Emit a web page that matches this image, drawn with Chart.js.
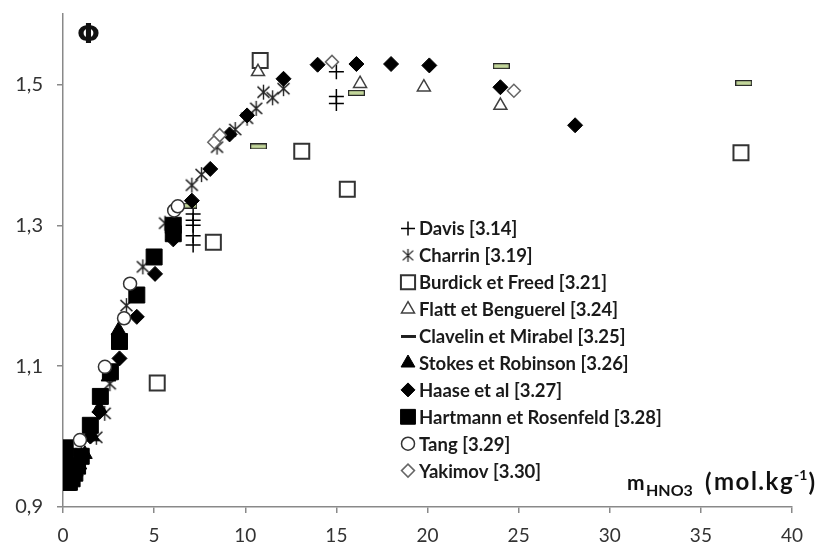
<!DOCTYPE html>
<html>
<head>
<meta charset="utf-8">
<script src="https://cdn.jsdelivr.net/npm/chart.js@4.4.1/dist/chart.umd.min.js"></script>
<style>
  body { margin: 0; background: #fff; }
  canvas { display: block; }
</style>
</head>
<body>
<canvas id="chartContainer" width="822" height="546"></canvas>
<script>
// data, [m HNO3, phi]
const davis = [[7.14, 1.316], [7.14, 1.307], [7.14, 1.300], [7.14, 1.285], [7.14, 1.272],
  [15.0, 1.518], [15.0, 1.483], [15.0, 1.473]]
const charrin = [[0.5, 0.955], [1.0, 0.975], [1.83, 0.999], [2.29, 1.033], [2.57, 1.075],
  [3.48, 1.186], [4.38, 1.241], [5.6, 1.303], [7.07, 1.357], [7.6, 1.372], [8.45, 1.411],
  [9.45, 1.436], [10.1, 1.452], [10.6, 1.466], [11.0, 1.489], [11.5, 1.481], [12.1, 1.494]]
const burdick = [[5.17, 1.076], [8.25, 1.276], [10.82, 1.534], [13.1, 1.405], [15.6, 1.351], [37.2, 1.403]]
const flatt = [[10.7, 1.518], [16.3, 1.501], [19.8, 1.496], [24.0, 1.470]]
const clavelin = [[6.9, 1.328], [10.73, 1.412], [16.1, 1.488], [24.05, 1.526], [37.35, 1.502]]
const stokes = [[0.1, 0.94], [0.3, 0.935], [0.5, 0.94], [0.7, 0.95], [0.9, 0.96], [1.2, 0.975],
  [1.6, 1.0], [2.0, 1.04], [2.5, 1.085], [3.1, 1.14], [3.05, 1.151]]
const haase = [[0.2, 0.935], [0.4, 0.94], [0.6, 0.945], [0.8, 0.955], [1.0, 0.965], [1.5, 1.0],
  [2.0, 1.035], [3.1, 1.111], [4.05, 1.170], [5.05, 1.231], [6.05, 1.280], [7.07, 1.335],
  [8.08, 1.380], [9.14, 1.429], [10.1, 1.456], [12.1, 1.508], [13.97, 1.528], [16.1, 1.529],
  [18.0, 1.529], [20.1, 1.527], [24.0, 1.496], [28.1, 1.442]]
const hartmann = [[0.12, 0.984], [0.12, 0.972], [0.12, 0.960], [0.15, 0.948], [0.2, 0.940],
  [0.25, 0.935], [0.35, 0.935], [0.5, 0.940], [0.65, 0.948], [0.8, 0.958], [1.0, 0.972],
  [1.5, 1.016], [2.05, 1.057], [2.6, 1.092], [3.1, 1.135], [4.05, 1.201], [5.0, 1.255],
  [6.05, 1.300], [6.05, 1.288]]
const tang = [[0.93, 0.995], [2.3, 1.099], [3.35, 1.168], [3.68, 1.217], [6.1, 1.321], [6.3, 1.327]]
const yakimov = [[8.3, 1.418], [8.6, 1.428], [14.76, 1.532], [24.74, 1.491]]

const seriesNames = ['Davis [3.14]', 'Charrin [3.19]', 'Burdick et Freed [3.21]', 'Flatt et Benguerel [3.24]',
  'Clavelin et Mirabel [3.25]', 'Stokes et Robinson [3.26]', 'Haase et al [3.27]',
  'Hartmann et Rosenfeld [3.28]', 'Tang [3.29]', 'Yakimov [3.30]']
const xTicks = [0, 5, 10, 15, 20, 25, 30, 35, 40]
const yTicks = [0.9, 1.1, 1.3, 1.5]
const yTickLabels = ['0,9', '1,1', '1,3', '1,5']

//Helper Functions:

// asterisk marker (X with a vertical bar), drawn on a small canvas
function makeAsterisk(size, lw) {
    var c = document.createElement('canvas')
    c.width = size; c.height = size
    var g = c.getContext('2d')
    var m = size / 2, r = size / 2 - 1
    g.strokeStyle = '#222'
    g.lineWidth = lw
    g.beginPath()
    g.moveTo(m, m - r); g.lineTo(m, m + r)
    g.moveTo(m - r * 0.8, m - r * 0.75); g.lineTo(m + r * 0.8, m + r * 0.75)
    g.moveTo(m + r * 0.8, m - r * 0.75); g.lineTo(m - r * 0.8, m + r * 0.75)
    g.stroke()
    return c
}

// flat bar marker
function makeBar(w, h, fill) {
    var c = document.createElement('canvas')
    c.width = w; c.height = h
    var g = c.getContext('2d')
    g.fillStyle = fill
    g.strokeStyle = '#262626'
    g.lineWidth = 1.2
    g.fillRect(0.6, 0.6, w - 1.2, h - 1.2)
    g.strokeRect(0.6, 0.6, w - 1.2, h - 1.2)
    return c
}

function toPoints(arr) {
    return arr.map(p => ({ x: p[0], y: p[1] }))
}

///////////////////////////////////////

const asterisk = makeAsterisk(17, 1.4)
const bar = makeBar(17, 6, '#c4d79b')

const styles = [
    { data: davis, pointStyle: 'cross', r: 7.5, bg: '#000', bc: '#000', bw: 1.5, lr: 7 },
    { data: charrin, pointStyle: asterisk, r: 8, bg: '#333', bc: '#333', bw: 1, legendStyle: makeAsterisk(15, 1.3) },
    { data: burdick, pointStyle: 'rect', r: 10.6, bg: '#fff', bc: '#333', bw: 2, lr: 10 },
    { data: flatt, pointStyle: 'triangle', r: 7.5, bg: '#fff', bc: '#404040', bw: 1.5, lr: 7.5 },
    { data: clavelin, pointStyle: bar, r: 8, bg: '#c4d79b', bc: '#262626', bw: 1, legendStyle: makeBar(15, 3, '#111') },
    { data: stokes, pointStyle: 'triangle', r: 8.5, bg: '#000', bc: '#000', bw: 1, lr: 8 },
    { data: haase, pointStyle: 'rectRot', r: 7.5, bg: '#000', bc: '#000', bw: 1, lr: 7 },
    { data: hartmann, pointStyle: 'rect', r: 11.3, bg: '#000', bc: '#000', bw: 1, lr: 10.5 },
    { data: tang, pointStyle: 'circle', r: 6.5, bg: '#fff', bc: '#333', bw: 1.5, lr: 6.5 },
    { data: yakimov, pointStyle: 'rectRot', r: 6.5, bg: '#fff', bc: '#666', bw: 1.5, lr: 6.5 }
]

const datasets = styles.map(function (s, i) {
    return {
        label: seriesNames[i],
        data: toPoints(s.data),
        pointStyle: s.pointStyle,
        pointRadius: s.r,
        pointHoverRadius: s.r,
        pointBackgroundColor: s.bg,
        pointBorderColor: s.bc,
        pointBorderWidth: s.bw,
        order: 10 - i
    }
})

// Legend inside the plot area, title texts
const extras = {
    id: 'extras',
    afterDraw(chart) {
        const ctx = chart.ctx
        ctx.save()
        ctx.textBaseline = 'middle'
        ctx.font = 'bold 18.5px Lato'
        styles.forEach(function (s, i) {
            const y = 228.5 + i * 26.9
            ctx.fillStyle = s.bg
            ctx.strokeStyle = s.bc
            ctx.lineWidth = s.bw
            Chart.helpers.drawPoint(ctx, {
                pointStyle: s.legendStyle || s.pointStyle,
                radius: s.lr || 6,
                borderWidth: s.bw,
                rotation: 0
            }, 408, y)
            ctx.fillStyle = '#1a1a1a'
            ctx.fillText(seriesNames[i], 419, y + 1)
        })

        // phi
        ctx.font = 'bold 27px "DejaVu Sans"'
        ctx.fillStyle = '#111'
        ctx.textBaseline = 'alphabetic'
        ctx.fillText('Φ', 77, 43)

        // x title: m_HNO3 (mol.kg^-1)
        const base = 490
        ctx.font = 'bold 21px Lato'
        ctx.fillText('m', 627, base)
        ctx.font = 'bold 16px Lato'
        ctx.fillText('HNO3', 646, base + 6)
        ctx.font = 'bold 24px Lato'
        ctx.fillText('(', 705, base + 1)
        ctx.letterSpacing = '1.5px'
        ctx.fillText('mol.kg', 714, base)
        let x = 714 + ctx.measureText('mol.kg').width
        ctx.letterSpacing = '0px'
        ctx.font = 'bold 14px Lato'
        ctx.fillText('-1', x, base - 10)
        x += ctx.measureText('-1').width + 1
        ctx.font = 'bold 24px Lato'
        ctx.fillText(')', x, base + 1)
        ctx.restore()
    }
}

const axisColor = '#898989'

var ctx = document.getElementById('chartContainer').getContext('2d');
var myChart = new Chart(ctx, {
    type: 'scatter',
    data: { datasets: datasets },
    plugins: [extras],
    options: {
        responsive: false,
        animation: false,
        events: [],
        layout: { padding: { left: 0, right: 30, top: 14, bottom: 0 } },
        plugins: {
            legend: { display: false },
            tooltip: { enabled: false }
        },
        scales: {
            x: {
                type: 'linear',
                min: 0,
                max: 40,
                afterBuildTicks: function (scale) { scale.ticks = xTicks.map(v => ({ value: v })) },
                afterFit: function (scale) { scale.height = 39; scale.paddingLeft = 0; scale.paddingRight = 0 },
                border: { display: true, color: axisColor, width: 1.5 },
                grid: { display: true, drawOnChartArea: false, drawTicks: true, tickLength: 6, color: axisColor, lineWidth: 1.5 },
                ticks: { color: '#333', font: { family: 'Lato', size: 19 }, padding: 11, maxRotation: 0 }
            },
            y: {
                type: 'linear',
                min: 0.9,
                max: 1.6,
                afterBuildTicks: function (scale) { scale.ticks = yTicks.map(v => ({ value: v })) },
                afterFit: function (scale) { scale.width = 63; scale.paddingTop = 0; scale.paddingBottom = 0 },
                border: { display: true, color: axisColor, width: 1.5 },
                grid: { display: true, drawOnChartArea: false, drawTicks: true, tickLength: 6, color: axisColor, lineWidth: 1.5 },
                ticks: {
                    color: '#333',
                    font: { family: 'Lato', size: 20 },
                    padding: 14,
                    callback: function (v) {
                        var i = yTicks.indexOf(v)
                        return i >= 0 ? yTickLabels[i] : ''
                    }
                }
            }
        }
    }
});
</script>
</body>
</html>
